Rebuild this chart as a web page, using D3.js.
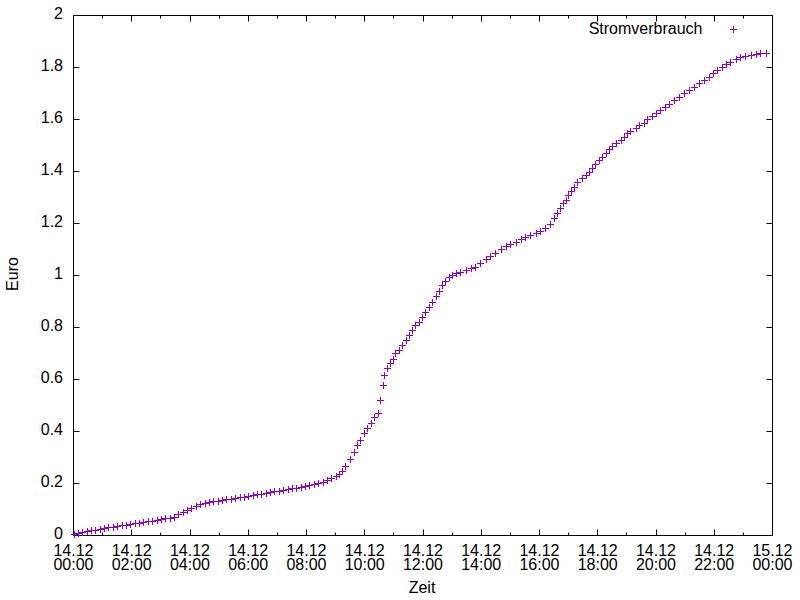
<!DOCTYPE html>
<html>
<head>
<meta charset="utf-8">
<script src="https://cdn.jsdelivr.net/npm/d3@7"></script>
<style>
  body { margin: 0; background: #fff; }
  text { font-family: "Liberation Sans", Arial, sans-serif; font-size: 16px; fill: #000; }
</style>
</head>
<body>
<svg id="chart" width="800" height="600"></svg>
<script>
// minutes since 14.12 00:00
var minutes = [0,9,18,27,36,45,54,63,72,81,90,99,108,117,126,135,144,153,162,171,180,189,198,207,216,225,234,243,252,261,
  270,279,288,297,306,315,324,333,342,351,360,369,378,387,396,405,414,423,432,441,450,459,468,477,486,495,504,513,522,531,540,547,553,
  560,569,577,584,591,599,605,612,619,627,631,637,640,646,652,658,663,670,677,684,691,698,704,711,718,725,732,739,746,753,
  760,766,773,780,787,797,808,818,828,838,849,859,869,880,890,900,911,921,931,941,952,962,972,981,989,996,1003,1009,1014,1018,
  1025,1031,1038,1048,1055,1062,1069,1075,1082,1089,1096,1103,1110,1117,1127,1134,1141,1147,1158,1165,
  1175,1182,1192,1199,1209,1219,1226,1237,1247,1257,1268,1278,1288,1298,1309,1318,1326,1336,1345,1353,1364,1374,1384,1395,1405,1415,1426];

var euro = [0.005,0.009,0.013,0.017,0.02,0.023,0.026,0.029,0.031,0.034,0.037,0.039,0.042,0.045,0.048,0.05,0.052,0.055,0.057,0.06,0.063,0.066,0.069,0.072,0.083,0.09,0.098,0.106,0.114,0.12,
  0.125,0.128,0.131,0.134,0.137,0.139,0.142,0.145,0.147,0.15,0.153,0.156,0.159,0.161,0.164,0.167,0.17,0.173,0.176,0.178,0.181,0.184,0.187,0.19,0.193,0.197,0.202,0.207,0.213,0.22,0.228,0.237,0.249,
  0.268,0.294,0.32,0.348,0.367,0.393,0.412,0.431,0.457,0.47,0.521,0.578,0.618,0.643,0.662,0.679,0.701,0.713,0.733,0.752,0.771,0.79,0.81,0.822,0.842,0.861,0.88,0.9,0.921,0.942,
  0.963,0.98,0.995,1.002,1.008,1.015,1.021,1.028,1.034,1.047,1.062,1.075,1.088,1.101,1.113,1.121,1.13,1.139,1.149,1.156,1.165,1.172,1.181,1.2,1.22,1.239,1.258,1.278,1.29,1.31,
  1.326,1.342,1.361,1.374,1.387,1.399,1.412,1.428,1.444,1.457,1.47,1.485,1.498,1.508,1.521,1.534,1.547,1.557,1.566,1.579,
  1.588,1.601,1.613,1.624,1.637,1.647,1.658,1.675,1.688,1.701,1.713,1.726,1.739,1.752,1.765,1.778,1.791,1.803,1.813,1.822,1.832,1.842,1.845,1.848,1.852,1.855,1.857];

var xMajor = [0,120,240,360,480,600,720,840,960,1080,1200,1320,1440];
var xMinor = [60,180,300,420,540,660,780,900,1020,1140,1260,1380];
var xDates = ["14.12","14.12","14.12","14.12","14.12","14.12","14.12","14.12","14.12","14.12","14.12","14.12","15.12"];
var xTimes = ["00:00","02:00","04:00","06:00","08:00","10:00","12:00","14:00","16:00","18:00","20:00","22:00","00:00"];
var yTicks = [0,0.2,0.4,0.6,0.8,1,1.2,1.4,1.6,1.8,2];
var yLabels = ["0","0.2","0.4","0.6","0.8","1","1.2","1.4","1.6","1.8","2"];

var svg = d3.select("#chart");
var x = d3.scaleLinear().domain([0, 1440]).range([73.5, 772.5]);
var y = d3.scaleLinear().domain([0, 2]).range([535.5, 15.5]);
var x0 = x.range()[0], x1 = x.range()[1], y0 = y.range()[0], y1 = y.range()[1];

var ticks = svg.append("g").attr("stroke", "#000").attr("stroke-width", 1);

// x ticks bottom + mirrored top
xMajor.forEach(function(m) {
  var px = Math.round(x(m) - 0.5) + 0.5;
  ticks.append("line").attr("x1", px).attr("x2", px).attr("y1", y0).attr("y2", y0 - 6);
  ticks.append("line").attr("x1", px).attr("x2", px).attr("y1", y1).attr("y2", y1 + 6);
});
xMinor.forEach(function(m) {
  var px = Math.round(x(m) - 0.5) + 0.5;
  ticks.append("line").attr("x1", px).attr("x2", px).attr("y1", y0).attr("y2", y0 - 3);
  ticks.append("line").attr("x1", px).attr("x2", px).attr("y1", y1).attr("y2", y1 + 3);
});
// y ticks left + right
yTicks.forEach(function(v) {
  var py = Math.round(y(v) - 0.5) + 0.5;
  ticks.append("line").attr("x1", x0).attr("x2", x0 + 6).attr("y1", py).attr("y2", py);
  ticks.append("line").attr("x1", x1).attr("x2", x1 - 6).attr("y1", py).attr("y2", py);
});

// frame
svg.append("rect")
  .attr("x", x0).attr("y", y1)
  .attr("width", x1 - x0).attr("height", y0 - y1)
  .attr("fill", "none").attr("stroke", "#000").attr("stroke-width", 1);

// tick labels
svg.selectAll(".ylab").data(yTicks).enter().append("text")
  .attr("x", 63).attr("y", function(d) { return y(d) + 3.5; })
  .attr("text-anchor", "end")
  .text(function(d, i) { return yLabels[i]; });

var xl = svg.selectAll(".xlab").data(xMajor).enter().append("text")
  .attr("text-anchor", "middle");
xl.append("tspan").attr("x", function(d) { return x(d); }).attr("y", 555.5)
  .text(function(d, i) { return xDates[i]; });
xl.append("tspan").attr("x", function(d) { return x(d); }).attr("y", 570)
  .text(function(d, i) { return xTimes[i]; });

// axis titles
svg.append("text").attr("x", 422).attr("y", 592.5).attr("text-anchor", "middle").text("Zeit");
svg.append("text").attr("transform", "translate(17.5,274) rotate(-90)")
  .attr("text-anchor", "middle").text("Euro");

// points
var cross = "M-3.5,0H3.5M0,-3.5V3.5";
var pts = minutes.map(function(m, i) { return { m: m, v: euro[i] }; });
svg.append("g").selectAll("path").data(pts).enter().append("path")
  .attr("d", cross)
  .attr("transform", function(d) {
    return "translate(" + (Math.round(x(d.m)) + 0.5) + "," + (Math.round(y(d.v)) + 0.5) + ")";
  })
  .attr("fill", "none").attr("stroke", "#9400d3").attr("stroke-width", 1);

// legend
svg.append("text").attr("x", 702.5).attr("y", 33.5).attr("text-anchor", "end").text("Stromverbrauch");
svg.append("path").attr("d", cross).attr("transform", "translate(733.5,29.5)")
  .attr("fill", "none").attr("stroke", "#9400d3").attr("stroke-width", 1);
</script>
</body>
</html>
